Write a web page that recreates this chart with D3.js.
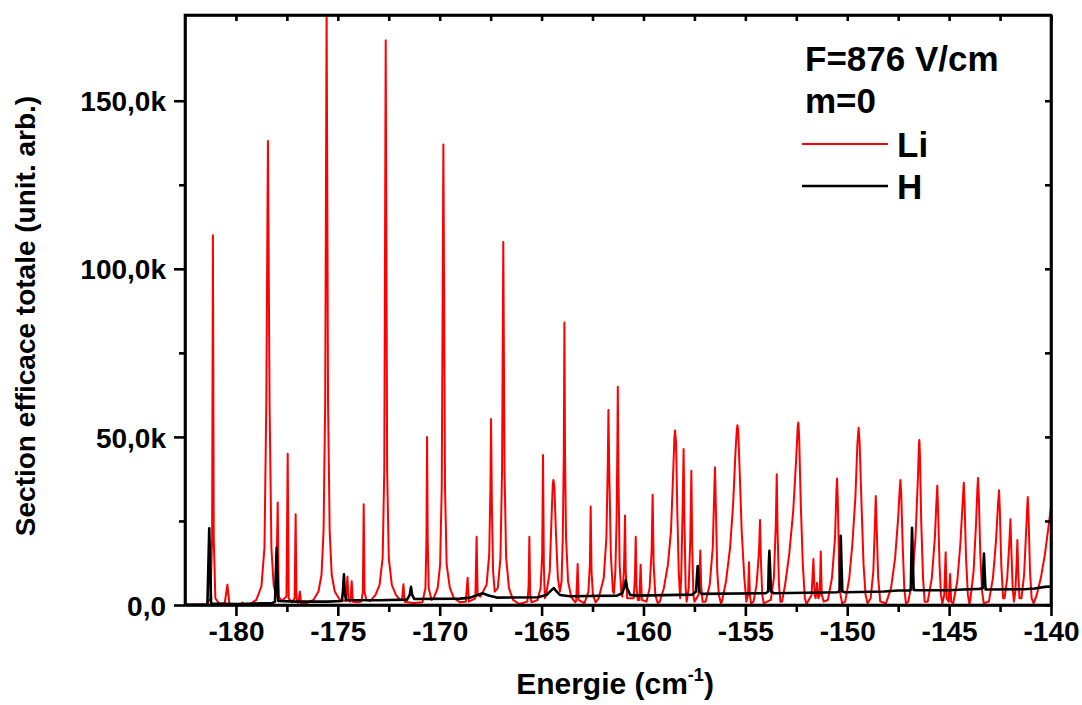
<!DOCTYPE html>
<html>
<head>
<meta charset="utf-8">
<script src="https://cdn.jsdelivr.net/npm/d3@7"></script>
<style>
  html, body { margin: 0; padding: 0; background: #fff; }
  svg { display: block; }
  text { font-family: "Liberation Sans", Arial, sans-serif; font-weight: bold; fill: #000; }
</style>
</head>
<body>
<svg id="chart" width="1082" height="705"></svg>
<script>
// ---------------- data ----------------
const xDomain = [-182.5, -140];
const yDomain = [0, 175.5];           // thousands (k)
const xMajorTicks = [-180, -175, -170, -165, -160, -155, -150, -145, -140];
const xTickLabels = ["-180", "-175", "-170", "-165", "-160", "-155", "-150", "-145", "-140"];
const xMinorTicks = [-177.5, -172.5, -167.5, -162.5, -157.5, -152.5, -147.5, -142.5];
const yMajorTicks = [0, 50, 100, 150];
const yTickLabels = ["0,0", "50,0k", "100,0k", "150,0k"];
const yMinorTicks = [25, 75, 125];
const legendTitle = ["F=876 V/cm", "m=0"];
const seriesNames = ["Li", "H"];

// Li spectrum: [energy (cm-1), cross-section (k)]
const liSpectrum = [
  [-182.5,0.1],
  [-181.45,0.2],[-181.25,2],[-181.17,20],[-181.13,110],[-181.09,20],[-181.01,2],[-180.8,0.3],
  [-180.55,0.6],[-180.42,6],[-180.32,0.3],
  [-179.75,0.1],[-179.69,0.7],[-179.6,0.1],
  [-179.3,0.3],[-179.0,1.5],[-178.75,5.5],[-178.6,17],[-178.51,60],[-178.43,138],[-178.35,60],[-178.26,17],[-178.15,6],[-178.03,2.5],
  [-177.95,30.5],[-177.9,2.5],[-177.75,1.2],
  [-177.52,2.5],[-177.46,45],[-177.41,2],[-177.25,0.8],
  [-177.12,2],[-177.07,27],[-177.03,2],[-176.95,0.6],
  [-176.86,4],[-176.8,0.3],
  [-176.6,0.3],[-176.2,1.5],[-175.95,4],[-175.8,9],[-175.7,22],[-175.62,60],[-175.55,177],[-175.48,60],[-175.4,22],[-175.3,9],[-175.15,4],[-174.9,1.5],
  [-174.6,1.2],[-174.53,8.4],[-174.47,1.2],[-174.38,1],[-174.32,7.1],[-174.26,1],
  [-174.0,0.8],
  [-173.85,1],[-173.77,4],[-173.73,30],[-173.69,4],[-173.6,1.5],
  [-173.4,1.2],[-173.15,3],[-172.95,6],[-172.8,14],[-172.72,40],[-172.65,168],[-172.58,40],[-172.5,14],[-172.35,6],[-172.15,3],[-171.95,1.5],
  [-171.85,1.5],[-171.78,6.2],[-171.72,1],
  [-171.3,0.6],
  [-170.85,0.8],[-170.7,5],[-170.65,20],[-170.62,50],[-170.59,20],[-170.54,5],[-170.4,1.5],
  [-170.3,2],[-170.1,5],[-169.98,12],[-169.9,35],[-169.82,137],[-169.74,35],[-169.66,12],[-169.5,5],[-169.3,2],[-169.0,0.8],
  [-168.72,1],[-168.63,8.1],[-168.57,1],
  [-168.25,2],[-168.19,20.3],[-168.14,3],
  [-168.0,2.5],[-167.7,6],[-167.57,15],[-167.51,35],[-167.48,55.3],[-167.44,30],[-167.38,10],[-167.3,4],
  [-167.15,5],[-167.02,14],[-166.94,40],[-166.88,108],[-166.82,40],[-166.74,14],[-166.6,5],[-166.4,1.5],[-166.1,0.3],
  [-165.7,1],[-165.64,5],[-165.6,20.3],[-165.56,3],[-165.5,0.8],
  [-165.2,1.5],[-165.05,5],[-164.97,15],[-164.93,44.6],[-164.89,12],[-164.84,2],
  [-164.75,4],[-164.6,10],[-164.5,28],[-164.45,36],[-164.42,37.2],[-164.37,35],[-164.3,22],[-164.2,8],[-164.1,4],
  [-164.02,7],[-163.96,20],[-163.91,45],[-163.88,84],[-163.85,45],[-163.8,20],[-163.7,7],[-163.55,2.5],[-163.35,0.8],
  [-163.3,1.2],[-163.23,12.2],[-163.18,1.5],
  [-162.9,0.5],[-162.7,4],[-162.63,12],[-162.59,29.3],[-162.55,10],[-162.48,3],[-162.35,0.8],
  [-162.2,2],[-161.95,8],[-161.82,20],[-161.75,42],[-161.72,58],[-161.68,40],[-161.6,15],[-161.5,4],
  [-161.45,3.5],[-161.38,10],[-161.32,25],[-161.28,48],[-161.26,64.9],[-161.23,40],[-161.17,12],[-161.08,3],
  [-161.04,2.5],[-160.96,10],[-160.93,18],[-160.905,26.6],[-160.87,10],[-160.8,2],
  [-160.48,2],[-160.42,8],[-160.38,20.3],[-160.34,5],[-160.28,1.5],
  [-160.2,1.5],[-160.14,12],[-160.08,1.5],
  [-159.85,1],[-159.7,5],[-159.6,16],[-159.55,32.8],[-159.5,12],[-159.42,3],[-159.3,0.5],
  [-159.2,1],[-159.0,5],[-158.8,12],[-158.65,22],[-158.55,38],[-158.48,50],[-158.45,51.9],[-158.4,48],[-158.34,28],[-158.27,10],[-158.2,2],
  [-158.15,8],[-158.08,28],[-158.03,46.4],[-157.99,25],[-157.93,5],[-157.88,1],
  [-157.78,5],[-157.7,20],[-157.65,39.9],[-157.61,18],[-157.55,3],[-157.5,1],
  [-157.3,3],[-157.25,9],[-157.21,16.2],[-157.17,6],[-157.1,1],
  [-156.95,1],[-156.75,6],[-156.6,17],[-156.52,35],[-156.49,41],[-156.45,30],[-156.38,10],[-156.3,3],[-156.2,0.5],
  [-156.15,1],[-155.95,7],[-155.75,17],[-155.6,30],[-155.48,46],[-155.42,52],[-155.39,53.5],[-155.35,52],[-155.28,40],[-155.18,22],[-155.05,8],[-154.95,1],
  [-154.87,3],[-154.82,12.7],[-154.78,3],[-154.72,0.5],
  [-154.6,1],[-154.45,6],[-154.33,16],[-154.28,25.3],[-154.24,14],[-154.17,3],[-154.1,0.5],
  [-153.75,1.5],[-153.6,8],[-153.5,25],[-153.46,38.9],[-153.42,22],[-153.35,6],[-153.28,1],
  [-153.2,1],[-153.05,6],[-152.85,15],[-152.65,28],[-152.5,44],[-152.43,53],[-152.4,54.3],[-152.36,50],[-152.28,30],[-152.18,12],[-152.08,2],[-152.0,0.3],
  [-151.75,3],[-151.66,13.7],[-151.6,3],
  [-151.55,2],[-151.48,6.6],[-151.42,2],
  [-151.35,3],[-151.3,15.9],[-151.25,3],[-151.15,1],
  [-150.95,1.5],[-150.75,8],[-150.6,20],[-150.53,34],[-150.5,37.6],[-150.46,30],[-150.4,12],[-150.33,3],[-150.25,0.5],
  [-150.1,1],[-149.9,8],[-149.75,18],[-149.6,32],[-149.5,48],[-149.44,52.7],[-149.39,48],[-149.3,30],[-149.2,12],[-149.1,3],[-149.0,0.5],
  [-148.85,2],[-148.72,10],[-148.64,24],[-148.6,32.4],[-148.56,24],[-148.48,8],[-148.38,1],
  [-148.1,0.5],[-147.85,5],[-147.65,14],[-147.5,26],[-147.42,35],[-147.39,37.2],[-147.35,33],[-147.28,18],[-147.2,5],[-147.12,0.5],
  [-147.0,1],[-146.8,8],[-146.65,20],[-146.53,38],[-146.48,48],[-146.46,49.1],[-146.43,44],[-146.37,25],[-146.28,8],[-146.2,1],
  [-146.05,1],[-145.85,8],[-145.7,20],[-145.62,31],[-145.58,35.5],[-145.54,28],[-145.47,12],[-145.4,3],[-145.33,0.5],
  [-145.24,3],[-145.17,15.7],[-145.12,2],
  [-145.02,1],[-144.95,9.2],[-144.9,1],
  [-144.8,0.5],[-144.6,7],[-144.45,18],[-144.34,30],[-144.28,36.4],[-144.24,30],[-144.17,14],[-144.08,3],[-144.0,0.3],
  [-143.95,2],[-143.8,10],[-143.68,24],[-143.61,35],[-143.58,37.8],[-143.54,32],[-143.47,15],[-143.38,4],[-143.3,0.5],
  [-143.05,1],[-142.85,8],[-142.7,19],[-142.6,30],[-142.55,34.1],[-142.51,28],[-142.44,12],[-142.35,2],
  [-142.28,2],[-142.15,8],[-142.05,18],[-141.99,25.5],[-141.95,17],[-141.88,5],[-141.82,1],
  [-141.75,4],[-141.69,12],[-141.65,19.3],[-141.61,10],[-141.55,2],
  [-141.45,2],[-141.32,9],[-141.22,22],[-141.16,30],[-141.14,32.1],[-141.1,26],[-141.03,10],[-140.95,2],[-140.85,0.5],
  [-140.7,3],[-140.5,8],[-140.3,15],[-140.15,22],[-140.0,29.3]
];

// H spectrum: [energy (cm-1), cross-section (k)]
const hSpectrum = [
  [-182.5,0.05],[-181.45,0.1],[-181.4,0.3],[-181.34,15],[-181.31,22.8],[-181.28,15],[-181.22,0.4],
  [-180,0.3],[-178.2,0.6],[-178.08,1],[-178.03,12],[-178.0,17.1],[-177.97,10],[-177.92,1.2],
  [-177,1.0],[-175.5,1.0],[-174.8,1.2],[-174.75,4],[-174.7,9.1],[-174.66,4],[-174.6,1.5],
  [-173,1.4],[-171.6,1.6],[-171.47,3],[-171.41,5.4],[-171.35,3],[-171.25,1.8],
  [-169,1.9],[-168.5,2.2],[-168.15,3],[-167.9,3.5],[-167.6,2.8],[-167.2,2.2],
  [-165.2,2.3],[-164.75,3],[-164.5,4.5],[-164.4,5.0],[-164.3,4.3],[-164.1,3],[-163.6,2.6],
  [-161.3,2.8],[-161.05,3.5],[-160.93,5.5],[-160.87,7.4],[-160.8,5],[-160.65,3],[-160.3,2.8],
  [-157.6,3.1],[-157.42,4],[-157.37,9],[-157.34,11.6],[-157.3,8],[-157.25,4],[-157.15,3.3],
  [-154.0,3.5],[-153.88,4],[-153.85,12],[-153.82,16.1],[-153.78,10],[-153.74,4],[-153.6,3.5],
  [-150.5,3.8],[-150.38,4],[-150.35,14],[-150.32,20.6],[-150.28,12],[-150.24,4],[-150.1,3.8],
  [-148.2,4.0],[-147.5,4.3],[-146.95,4.3],[-146.88,4.5],[-146.85,15],[-146.82,23],[-146.78,14],[-146.74,4.5],[-146.6,4.4],
  [-145,4.4],[-144.3,4.6],[-143.5,4.8],[-143.35,5],[-143.32,11],[-143.29,15.3],[-143.25,9],[-143.21,4.6],[-143.1,4.6],
  [-141.3,4.7],[-140.8,4.9],[-140.3,5.4],[-140,5.5]
];

// ---------------- drawing ----------------
const svg = d3.select("#chart");
const plot = { left: 185, right: 1051, top: 15, bottom: 605 };

const x = d3.scaleLinear().domain(xDomain).range([plot.left, plot.right]);
const y = d3.scaleLinear().domain(yDomain).range([plot.bottom, plot.top]);

svg.append("rect").attr("width", 1082).attr("height", 705).attr("fill", "#fff");

svg.append("clipPath").attr("id", "clip")
  .append("rect")
  .attr("x", plot.left).attr("y", plot.top)
  .attr("width", plot.right - plot.left).attr("height", plot.bottom - plot.top);

const line = d3.line().x(d => x(d[0])).y(d => y(d[1]));

const curves = svg.append("g").attr("clip-path", "url(#clip)");
curves.append("path").datum(liSpectrum)
  .attr("d", line).attr("fill", "none").attr("stroke", "#ff0000")
  .attr("stroke-width", 2).attr("stroke-linejoin", "round");
curves.append("path").datum(hSpectrum)
  .attr("d", line).attr("fill", "none").attr("stroke", "#000")
  .attr("stroke-width", 2.6).attr("stroke-linejoin", "round");

// axes
const axisStroke = 2.6;
function styleAxis(g) {
  g.select(".domain").attr("stroke", "#000").attr("stroke-width", axisStroke);
  g.selectAll(".tick line").attr("stroke", "#000").attr("stroke-width", axisStroke);
}
const labelFont = 28;

// bottom
const gBottom = svg.append("g").attr("transform", `translate(0,${plot.bottom})`);
gBottom.call(d3.axisBottom(x).tickValues(xMajorTicks).tickSize(11).tickSizeOuter(0)
  .tickFormat((d, i) => xTickLabels[i]));
gBottom.selectAll(".tick text").attr("font-size", labelFont).attr("dy", "0.74em").attr("y", 15)
  .style("font-family", "'Liberation Sans', Arial, sans-serif").style("font-weight", "bold");
styleAxis(gBottom);
const gBottomMinor = svg.append("g").attr("transform", `translate(0,${plot.bottom})`);
gBottomMinor.call(d3.axisBottom(x).tickValues(xMinorTicks).tickSize(7).tickSizeOuter(0).tickFormat(""));
gBottomMinor.select(".domain").remove();
styleAxis(gBottomMinor);

// top (inward ticks)
const gTop = svg.append("g").attr("transform", `translate(0,${plot.top})`);
gTop.call(d3.axisTop(x).tickValues(xMajorTicks.concat(xMinorTicks)).tickSize(-6).tickSizeOuter(0).tickFormat(""));
styleAxis(gTop);

// left
const gLeft = svg.append("g").attr("transform", `translate(${plot.left},0)`);
gLeft.call(d3.axisLeft(y).tickValues(yMajorTicks).tickSize(11).tickSizeOuter(0)
  .tickFormat((d, i) => yTickLabels[i]));
gLeft.selectAll(".tick text").attr("font-size", labelFont).attr("x", -19).attr("dy", "0.36em")
  .style("font-family", "'Liberation Sans', Arial, sans-serif").style("font-weight", "bold");
styleAxis(gLeft);
const gLeftMinor = svg.append("g").attr("transform", `translate(${plot.left},0)`);
gLeftMinor.call(d3.axisLeft(y).tickValues(yMinorTicks).tickSize(6).tickSizeOuter(0).tickFormat(""));
gLeftMinor.select(".domain").remove();
styleAxis(gLeftMinor);

// right (inward ticks)
const gRight = svg.append("g").attr("transform", `translate(${plot.right},0)`);
gRight.call(d3.axisRight(y).tickValues(yMajorTicks.concat(yMinorTicks)).tickSize(-6).tickSizeOuter(0).tickFormat(""));
styleAxis(gRight);

// close corners
svg.append("rect")
  .attr("x", plot.left).attr("y", plot.top)
  .attr("width", plot.right - plot.left).attr("height", plot.bottom - plot.top)
  .attr("fill", "none").attr("stroke", "#000").attr("stroke-width", axisStroke);

// axis titles
const xTitle = svg.append("text").attr("x", 615).attr("y", 694)
  .attr("text-anchor", "middle").attr("font-size", 30);
xTitle.append("tspan").text("Energie (cm");
xTitle.append("tspan").attr("font-size", 18).attr("dy", -13).text("-1");
xTitle.append("tspan").attr("dy", 13).text(")");

svg.append("text")
  .attr("transform", "translate(35,316) rotate(-90)")
  .attr("text-anchor", "middle").attr("font-size", 28)
  .text("Section efficace totale (unit. arb.)");

// legend
const legendFont = 35;
svg.append("text").attr("x", 805).attr("y", 71).attr("font-size", legendFont).text(legendTitle[0]);
svg.append("text").attr("x", 805).attr("y", 113).attr("font-size", legendFont).text(legendTitle[1]);
const legendColors = ["#ff0000", "#000"];
const legendY = [144, 186];
seriesNames.forEach((name, i) => {
  svg.append("line").attr("x1", 802).attr("x2", 888).attr("y1", legendY[i]).attr("y2", legendY[i])
    .attr("stroke", legendColors[i]).attr("stroke-width", i === 0 ? 2 : 2.6);
  svg.append("text").attr("x", 897).attr("y", legendY[i] + 13).attr("font-size", legendFont).text(name);
});
</script>
</body>
</html>
